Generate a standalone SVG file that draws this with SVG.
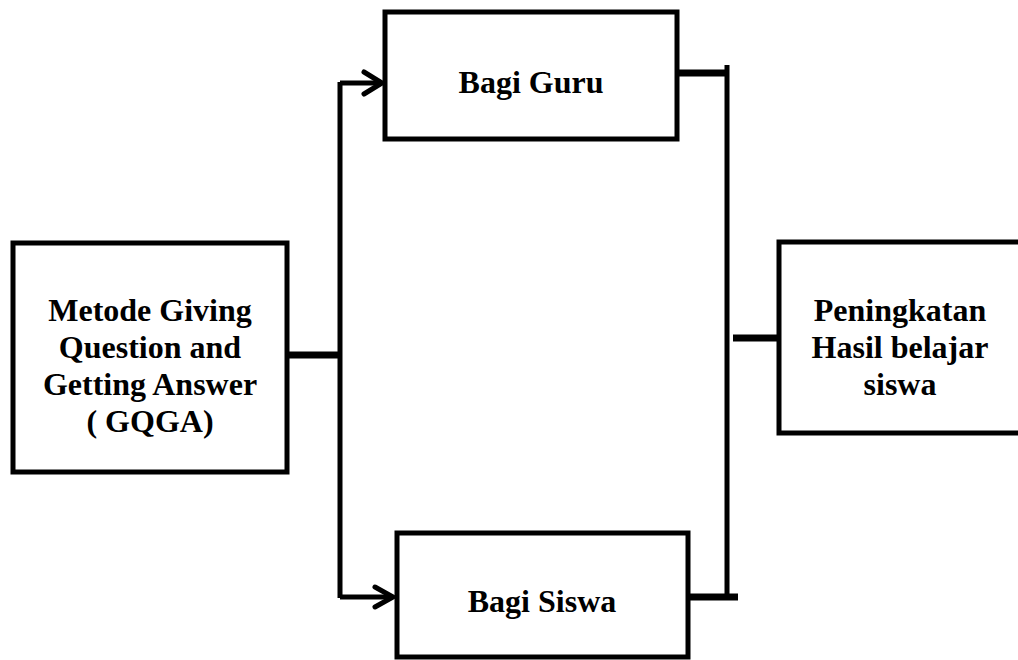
<svg xmlns="http://www.w3.org/2000/svg" width="1018" height="660" viewBox="0 0 1018 660">
<style>
.box{fill:#fff;stroke:#000;stroke-width:5}
.t{font-family:"Liberation Serif","Times New Roman",serif;font-weight:bold;font-size:32px;fill:#000;text-anchor:middle}
.c{fill:none;stroke:#000;stroke-width:5}
.s{fill:none;stroke:#000;stroke-width:7}
.ah{fill:none;stroke:#000;stroke-width:5;stroke-linecap:round;stroke-linejoin:miter}
</style>
<rect width="1018" height="660" fill="#fff"/>
<g id="connectors">
<path class="s" d="M287 355 H340"/>
<path class="c" d="M340 82 V598 M340 83 H382 M340 597 H393"/>
<path class="ah" d="M364 72 L382 83 L364 94"/>
<path class="ah" d="M375 587 L393 597 L375 607"/>
<path class="s" d="M677 73 H727 M688 597 H738"/>
<path class="c" d="M727 65 V600"/>
<path class="s" d="M733 338 H780"/>
</g>
<g id="n-gqga">
<rect class="box" x="13" y="243" width="274" height="229"/>
<text class="t" x="150" y="321">Metode Giving</text>
<text class="t" x="150" y="358">Question and</text>
<text class="t" x="150" y="395">Getting Answer</text>
<text class="t" x="150" y="432">( GQGA)</text>
</g>
<g id="n-guru">
<rect class="box" x="385" y="12" width="292" height="127"/>
<text class="t" x="531" y="93">Bagi Guru</text>
</g>
<g id="n-siswa">
<rect class="box" x="397" y="533" width="291" height="124"/>
<text class="t" x="542" y="612">Bagi Siswa</text>
</g>
<g id="n-hasil">
<rect class="box" x="779" y="242" width="250" height="191"/>
<text class="t" x="900" y="321">Peningkatan</text>
<text class="t" x="900" y="358">Hasil belajar</text>
<text class="t" x="900" y="395">siswa</text>
</g>
</svg>
